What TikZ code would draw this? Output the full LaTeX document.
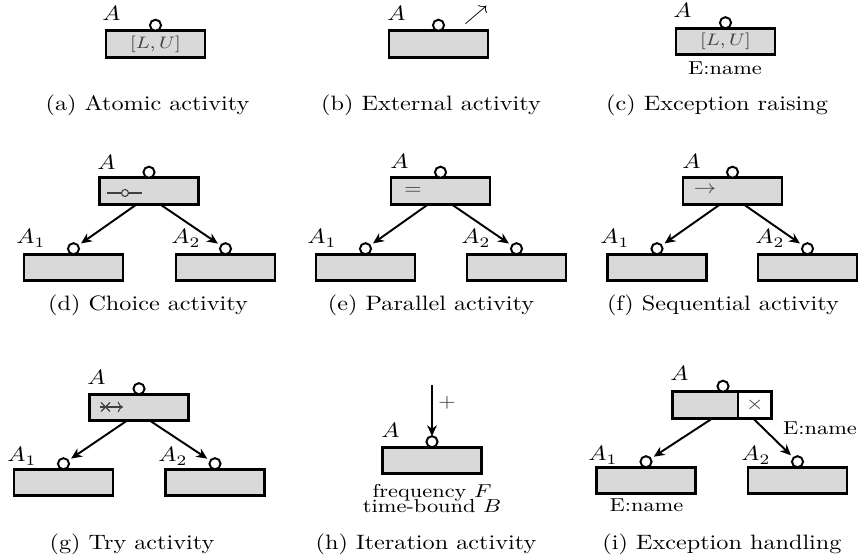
\documentclass[tikz,border=0pt]{standalone}
\usepackage{graphicx}
\usetikzlibrary{arrows.meta}
\newcommand\vsq[1]{\scalebox{1}[0.86]{#1}}
\begin{document}
\begin{tikzpicture}[x=0.4132pt,y=-0.4132pt,
  act/.style={draw, line width=1.1pt, fill=black!15, minimum width=41pt, minimum height=10.9pt, inner sep=0pt, outer sep=0pt},
  port/.style={circle, draw, line width=0.8pt, fill=white, minimum size=4.6pt, inner sep=0pt, outer sep=0pt, anchor=south},
  squish/.style={yscale=0.86, transform shape},
  lbl/.style={inner sep=0pt, anchor=base west, squish},
  flow/.style={line width=0.8pt, -{Stealth[length=4.5pt,width=4pt]}, shorten >=1.5pt},
  captxt/.style={inner sep=0pt, squish},
  note/.style={font=\small, inner sep=0pt, anchor=base, squish},
  sym/.style={text=black!75, font=\small, inner sep=0pt, squish},
  symline/.style={draw=black!75, line width=0.45pt},
]
\useasboundingbox (0,0) rectangle (860,560);

% (a) Atomic activity
\node[act, text=black!75, font=\footnotesize] (a) at (155.5,44) {\vsq{$[L,U]$}};
\node[port] (ap) at (a.north) {};
\node[lbl] (aA) at (102,21) {$A$};
\node[captxt] (acap) at (147.5,105) {(a) Atomic activity};

% (b) External activity
\node[act] (b) at (438.5,44) {};
\node[port] (bp) at (b.north) {};
\node[lbl] (bA) at (387,21) {$A$};
\node[inner sep=0pt, squish] (bx) at (476,15) {$\nearrow$};
\node[captxt] (bcap) at (431,105) {(b) External activity};

% (c) Exception raising
\node[act, text=black!75, font=\footnotesize] (c) at (725.5,41.5) {\vsq{$[L,U]$}};
\node[port] (cp) at (c.north) {};
\node[lbl] (cA) at (673,18) {$A$};
\node[note] (ce) at (725,75) {E:name};
\node[captxt] (ccap) at (717,105) {(c) Exception raising};

% (d) Choice activity
\node[act] (dT) at (149,191) {};
\node[port] (dTp) at (dT.north) {};
\node[lbl] (dA) at (97,170) {$A$};
\draw[symline] (107,193) -- (121.5,193);
\draw[symline] (128.5,193) -- (142,193);
\draw[symline] (125,193) circle[radius=3.5];
\node[act] (dL) at (73.5,267.5) {};
\node[port] (dLp) at (dL.north) {};
\node[lbl] (dA1) at (16,244) {$A_1$};
\node[act] (dR) at (225.5,267.5) {};
\node[port] (dRp) at (dR.north) {};
\node[lbl] (dA2) at (171,244) {$A_2$};
\draw[flow] ([xshift=-5pt]dT.south) -- (dLp);
\draw[flow] ([xshift=4.5pt]dT.south) -- (dRp);
\node[captxt] (dcap) at (148,305) {(d) Choice activity};

% (e) Parallel activity
\node[act] (eT) at (440.5,191) {};
\node[port] (eTp) at (eT.north) {};
\node[lbl] (eA) at (390,169) {$A$};
\node[sym] (eS) at (413,191) {$=$};
\node[act] (eL) at (365.5,267.5) {};
\node[port] (eLp) at (eL.north) {};
\node[lbl] (eA1) at (307,244) {$A_1$};
\node[act] (eR) at (516.5,267.5) {};
\node[port] (eRp) at (eR.north) {};
\node[lbl] (eA2) at (461,244) {$A_2$};
\draw[flow] ([xshift=-5pt]eT.south) -- (eLp);
\draw[flow] ([xshift=4.5pt]eT.south) -- (eRp);
\node[captxt] (ecap) at (431,305) {(e) Parallel activity};

% (f) Sequential activity
\node[act] (fT) at (732.5,191) {};
\node[port] (fTp) at (fT.north) {};
\node[lbl] (fA) at (682,169) {$A$};
\node[sym] (fS) at (705,190) {$\rightarrow$};
\node[act] (fL) at (657,267.5) {};
\node[port] (fLp) at (fL.north) {};
\node[lbl] (fA1) at (600,244) {$A_1$};
\node[act] (fR) at (807.5,267.5) {};
\node[port] (fRp) at (fR.north) {};
\node[lbl] (fA2) at (755,244) {$A_2$};
\draw[flow] ([xshift=-5pt]fT.south) -- (fLp);
\draw[flow] ([xshift=4.5pt]fT.south) -- (fRp);
\node[captxt] (fcap) at (723,305) {(f) Sequential activity};

% (g) Try activity
\node[act] (gT) at (139,407.5) {};
\node[port] (gTp) at (gT.north) {};
\node[lbl] (gA) at (87,385) {$A$};
\draw[symline, -{To[length=2.2pt,width=4.4pt]}] (100,407) -- (123,407);
\draw[symline] (101,402.5) -- (110,411.5);
\draw[symline] (101,411.5) -- (110,402.5);
\node[act] (gL) at (63.5,482.5) {};
\node[port] (gLp) at (gL.north) {};
\node[lbl] (gA1) at (7,462) {$A_1$};
\node[act] (gR) at (215,482.5) {};
\node[port] (gRp) at (gR.north) {};
\node[lbl] (gA2) at (158,462) {$A_2$};
\draw[flow] ([xshift=-5pt]gT.south) -- (gLp);
\draw[flow] ([xshift=4.5pt]gT.south) -- (gRp);
\node[captxt] (gcap) at (132,544) {(g) Try activity};

% (h) Iteration activity
\node[act] (h) at (432,460.5) {};
\node[port] (hp) at (h.north) {};
\node[lbl] (hA) at (381,438) {$A$};
\coordinate (htop) at (432,385);
\draw[flow, shorten >=0pt] (htop) -- (hp);
\node[sym] (hplus) at (447,403) {$+$};
\node[note, anchor=north, align=center] (hf) at (432,484) {frequency $F$\\[-3.8pt]time-bound $B$};
\node[captxt] (hcap) at (426,544) {(h) Iteration activity};

% (i) Exception handling
\node[act, minimum width=27.1pt, anchor=east] (iT) at (738,405) {};
\node[act, fill=white, minimum width=13.9pt, anchor=west, text=black!75, font=\small] (iX) at (738,405) {\vsq{$\times$}};
\node[port] (ip) at ([xshift=-6.2pt]iT.north east) {};
\node[lbl] (iA) at (670,381) {$A$};
\node[act] (iL) at (646,480.5) {};
\node[port] (iLp) at (iL.north) {};
\node[lbl] (iA1) at (588,461) {$A_1$};
\node[act] (iR) at (797.5,480.5) {};
\node[port] (iRp) at (iR.north) {};
\node[lbl] (iA2) at (741,461) {$A_2$};
\draw[flow] ([xshift=3.1pt]iT.south) -- (iLp);
\draw[flow] ([xshift=-0.8pt]iX.south) -- (iRp);
\node[note] (ie1) at (820,435) {E:name};
\node[note] (ie2) at (646.5,512) {E:name};
\node[captxt] (icap) at (722,544) {(i) Exception handling};
\end{tikzpicture}
\end{document}
